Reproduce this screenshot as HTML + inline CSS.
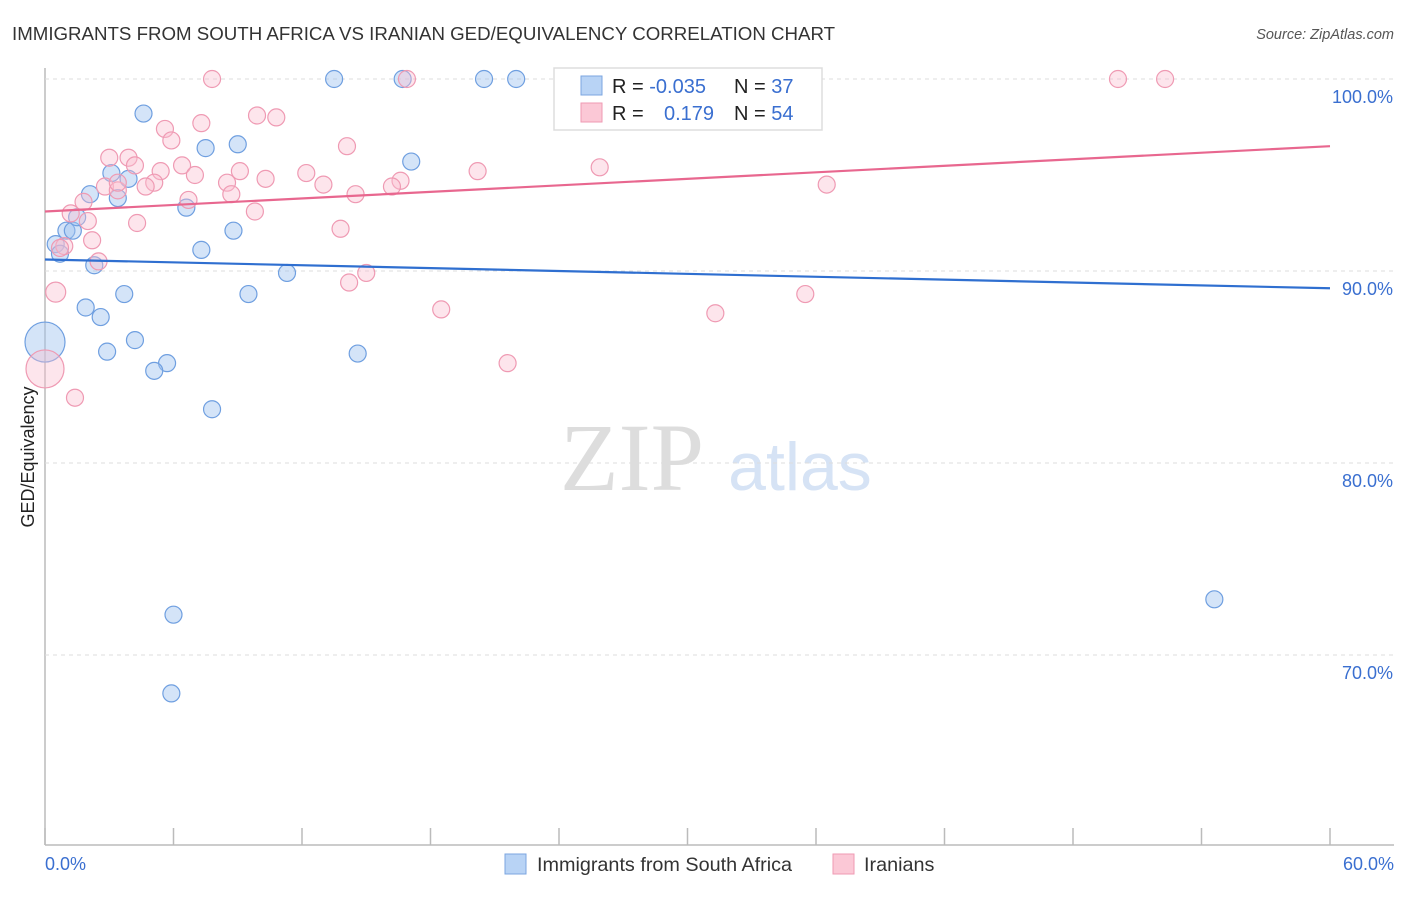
<!DOCTYPE html>
<html><head><meta charset="utf-8"><style>
body{margin:0;background:#fff;font-family:"Liberation Sans",sans-serif}
svg text{font-family:"Liberation Sans",sans-serif}
</style></head><body>
<svg id="c" width="1406" height="892">
<text x="12" y="40" font-size="18.7" fill="#333">IMMIGRANTS FROM SOUTH AFRICA VS IRANIAN GED/EQUIVALENCY CORRELATION CHART</text>
<text x="1394" y="39" font-size="14.5" fill="#555" text-anchor="end" font-style="italic">Source: ZipAtlas.com</text>
<text x="632" y="490" font-size="96" fill="#ddd" text-anchor="middle" style="font-family:'Liberation Serif',serif">ZIP</text>
<text x="800" y="490" font-size="68" fill="#d6e3f5" text-anchor="middle">atlas</text>
<text transform="translate(34,457) rotate(-90)" font-size="18" fill="#222" text-anchor="middle">GED/Equivalency</text>
<g id="grid"></g><g id="pts"></g><g id="lines"></g>
<g>
<rect x="554" y="68" width="268" height="62" fill="#fff" stroke="#ddd" stroke-width="1.5"/>
<rect x="581" y="76" width="21" height="19" fill="#b8d3f5" stroke="#7ba6e0"/>
<rect x="581" y="103" width="21" height="19" fill="#fbc8d6" stroke="#ef9ab3"/>
<text x="612" y="93" font-size="20" fill="#222">R = <tspan fill="#3a6fd0">-0.035</tspan></text>
<text x="734" y="93" font-size="20" fill="#222">N = <tspan fill="#3a6fd0">37</tspan></text>
<text x="612" y="120" font-size="20" fill="#222">R = <tspan x="664" fill="#3a6fd0">0.179</tspan></text>
<text x="734" y="120" font-size="20" fill="#222">N = <tspan fill="#3a6fd0">54</tspan></text>
</g>
<g>
<rect x="505" y="854" width="21" height="20" fill="#b8d3f5" stroke="#7ba6e0"/>
<text x="537" y="871" font-size="19.8" fill="#333">Immigrants from South Africa</text>
<rect x="833" y="854" width="21" height="20" fill="#fbc8d6" stroke="#ef9ab3"/>
<text x="864" y="871" font-size="19.8" fill="#333">Iranians</text>
</g>
<text x="45" y="870" font-size="18" fill="#3a6fd0">0.0%</text>
<text x="1394" y="870" font-size="18" fill="#3a6fd0" text-anchor="end">60.0%</text>
</svg>
<script>
const yTicks=[100,90,80,70];
const yTickLabels=["100.0%","90.0%","80.0%","70.0%"];
const blueX=[13.5,16.7,20.5,22.0,33.6,4.6,9.0,7.5,17.1,3.1,3.9,3.4,2.1,6.6,8.8,1.0,1.3,0.5,0.7,7.3,2.3,11.3,3.7,9.5,1.9,2.6,4.2,2.9,14.6,5.7,5.1,7.8,6.0,5.9,54.6,0.0,1.5];
const blueY=[100,100,100,100,100,98.2,96.6,96.4,95.7,95.1,94.8,93.8,94.0,93.3,92.1,92.1,92.1,91.4,90.9,91.1,90.3,89.9,88.8,88.8,88.1,87.6,86.4,85.8,85.7,85.2,84.8,82.8,72.1,68.0,72.9,86.3,92.8];
const blueBig=[35];
const pinkX=[7.8,16.9,50.1,52.3,9.9,10.8,7.3,5.6,5.9,14.1,3.0,3.9,4.2,6.4,5.4,9.1,12.2,20.2,25.9,10.3,7.0,5.1,8.5,13.0,16.6,2.8,4.7,3.4,16.2,14.5,8.7,6.7,1.8,1.2,2.0,9.8,4.3,13.8,2.2,0.9,2.5,15.0,14.2,0.5,18.5,31.3,35.5,36.5,21.6,0,1.4,3.4,0.7];
const pinkY=[100,100,100,100,98.1,98.0,97.7,97.4,96.8,96.5,95.9,95.9,95.5,95.5,95.2,95.2,95.1,95.2,95.4,94.8,95.0,94.6,94.6,94.5,94.7,94.4,94.4,94.2,94.4,94.0,94.0,93.7,93.6,93.0,92.6,93.1,92.5,92.2,91.6,91.3,90.5,89.9,89.4,88.9,88.0,87.8,88.8,94.5,85.2,84.9,83.4,94.6,91.2];
const pinkBig=[49];const pinkMed=[43];
const blueTrend=[[0,90.6],[60,89.1]];
const pinkTrend=[[0,93.1],[60,96.5]];
const X=v=>45+v/60*1285, Y=v=>79+(100-v)*19.2;
const NS="http://www.w3.org/2000/svg";
function mk(t,a,p){const e=document.createElementNS(NS,t);for(const k in a)e.setAttribute(k,a[k]);p.appendChild(e);return e;}
const g=document.getElementById('grid');
const ax=mk('line',{x1:45,y1:68,x2:45,y2:845,stroke:'#bbb','stroke-width':1.5},g);


const bx=mk('line',{x1:45,y1:845,x2:1394,y2:845,stroke:'#bbb','stroke-width':1.5},g);


for(let i=0;i<=10;i++){const t=mk('line',{x1:X(i*6),x2:X(i*6),y1:828,y2:845,stroke:'#bbb','stroke-width':1.5},g);

}
yTicks.forEach((v,i)=>{const l=mk('line',{x1:45,x2:1394,y1:Y(v),y2:Y(v),stroke:'#ddd','stroke-dasharray':'4,4'},g);


const t=mk('text',{x:1393,y:Y(v)+24,'font-size':18,fill:'#3a6fd0','text-anchor':'end'},g);t.textContent=yTickLabels[i];

});
const p=document.getElementById('pts');
blueX.forEach((x,i)=>{const r=blueBig.includes(i)?20:8.5;const c=mk('circle',{cx:X(x),cy:Y(blueY[i]),r:r,fill:'rgba(160,196,240,0.45)',stroke:'#6f9fe0','stroke-width':1.2},p);

});
pinkX.forEach((x,i)=>{const r=pinkBig.includes(i)?19:(pinkMed.includes(i)?10:8.5);const c=mk('circle',{cx:X(x),cy:Y(pinkY[i]),r:r,fill:'rgba(250,190,208,0.4)',stroke:'#ef9ab3','stroke-width':1.2},p);

});
const L=document.getElementById('lines');
const bl=mk('line',{x1:X(blueTrend[0][0]),y1:Y(blueTrend[0][1]),x2:X(blueTrend[1][0]),y2:Y(blueTrend[1][1]),stroke:'#2f6fd0','stroke-width':2.2},L);


const pl=mk('line',{x1:X(pinkTrend[0][0]),y1:Y(pinkTrend[0][1]),x2:X(pinkTrend[1][0]),y2:Y(pinkTrend[1][1]),stroke:'#e8678f','stroke-width':2.2},L);


</script>
</body></html>
